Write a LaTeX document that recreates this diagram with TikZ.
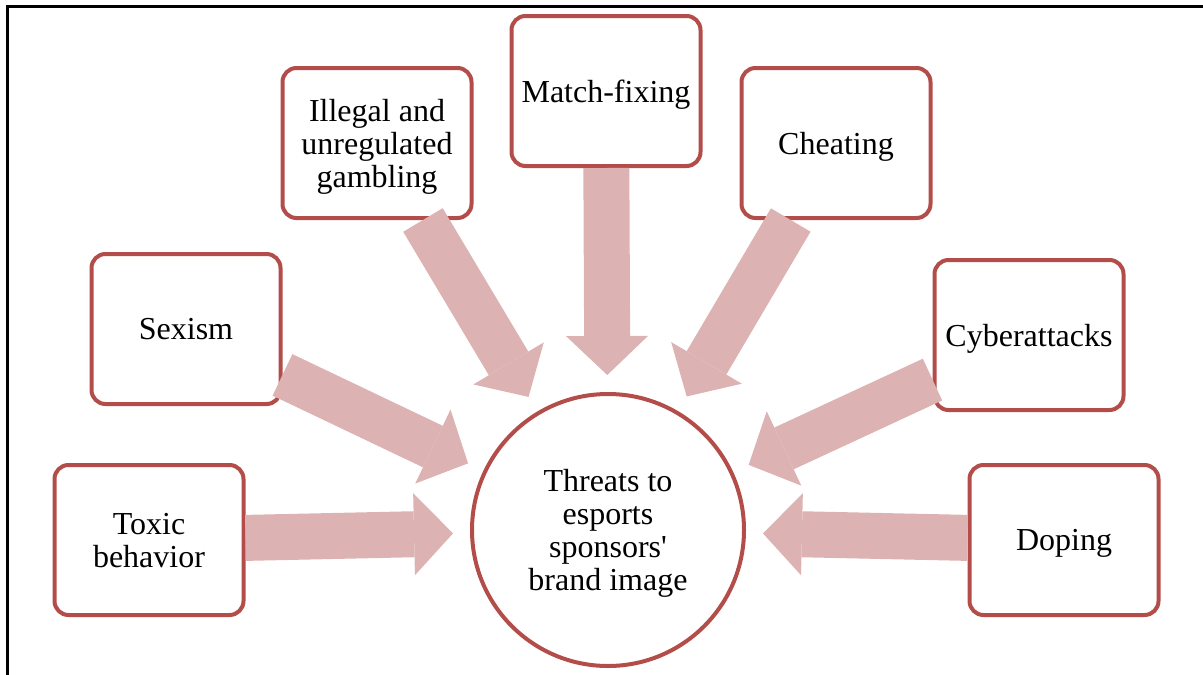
\documentclass[tikz,border=0pt]{standalone}
\usepackage{fontspec}
\setmainfont{Liberation Serif}[Ligatures=TeXOff]
\usetikzlibrary{arrows.meta}
\definecolor{edge}{HTML}{B34D49}
\definecolor{pale}{HTML}{DDB2B2}
\tikzset{sc/.style={x=1pt,y=-1pt,font=\fontsize{32}{33}\selectfont},
  box/.style={draw=edge,line width=4pt,rounded corners=14pt,minimum width=189pt,minimum height=150pt,align=center,text depth=0pt},
  hub/.style={circle,draw=edge,line width=4pt,minimum size=272pt,align=center,text depth=0pt},
  thr/.style={draw=pale,line width=46pt,shorten >=17pt,-{Triangle[width=82pt,length=39pt,line width=0pt]}}}

\begin{document}
\begin{tikzpicture}[sc]
  \useasboundingbox (0,0) rectangle (1203,675);
  \draw[line width=3pt] (1203,6) -- (7,6) -- (7,675);
  \node[box] (tox) at (149,540) {Toxic\\behavior};
  \node[box] (sex) at (186,329) {Sexism};
  \node[box] (gamb) at (377,143) {Illegal and\\unregulated\\gambling};
  \node[box] (fix) at (606,91) {Match-fixing};
  \node[box] (cheat) at (836,143) {Cheating};
  \node[box] (cyber) at (1029,335) {Cyberattacks};
  \node[box] (dope) at (1064,540) {Doping};
  \node[hub] (hub) at (608,530) {Threats to\\esports\\sponsors'\\brand image};
  \foreach \b in {tox,sex,gamb,fix,cheat,cyber,dope}{\draw[thr] (\b) -- (hub);}
\end{tikzpicture}
\end{document}
